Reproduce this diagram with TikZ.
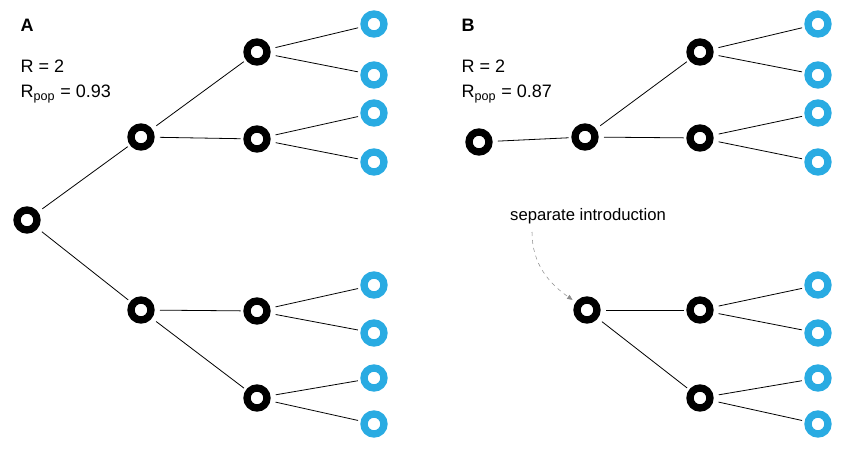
\documentclass[tikz,border=0pt]{standalone}
\usepackage{fontspec}
\setmainfont{Liberation Sans}
\usepackage{xcolor}
\usepackage{tikz}
\usetikzlibrary{positioning, arrows.meta, calc}
\definecolor{leafblue}{HTML}{29ABE2}
\tikzset{
    case/.style={circle, draw=black, line width=5.5pt, minimum size=15pt, inner sep=0pt},
    leaf/.style={case, draw=leafblue},
    link/.style={line width=0.6pt, black, shorten <=4pt, shorten >=2pt},
    plabel/.style={font=\fontsize{13.5}{16}\selectfont\bfseries, anchor=base west},
    rlabel/.style={font=\fontsize{13.5}{16}\selectfont, anchor=base west},
    note/.style={font=\fontsize{12.5}{15}\selectfont},
    arrow/.style={-{Triangle[length=4pt, width=3.5pt]}, dashed, thin, black!45, shorten >=3pt}
}

\begin{document}
\begin{tikzpicture}[x=0.75pt, y=-0.75pt]
        \useasboundingbox (0,0) rectangle (851,460);

        % Panel A
        \node[plabel] (labA) at (16,32) {A};
        \node[rlabel] (rA) at (16,73) {R = 2};
        \node[rlabel] (rpopA) at (16,98) {R\textsubscript{pop} = 0.93};

        \node[case] (a0) at (27,220) {};
        \node[case] (a1) at (141,137) {};
        \node[case] (a2) at (141,310) {};
        \node[case] (a11) at (257,52) {};
        \node[case] (a12) at (257,139) {};
        \node[case] (a21) at (257,311) {};
        \node[case] (a22) at (257,398) {};
        \foreach \n/\y in {1/24, 2/75, 3/113, 4/162, 5/285, 6/333, 7/378, 8/424}
            \node[leaf] (al\n) at (374,\y) {};

        \draw[link] (a0) -- (a1);
        \draw[link] (a0) -- (a2);
        \draw[link] (a1) -- (a11);
        \draw[link] (a1) -- (a12);
        \draw[link] (a2) -- (a21);
        \draw[link] (a2) -- (a22);
        \foreach \p/\l in {a11/al1, a11/al2, a12/al3, a12/al4, a21/al5, a21/al6, a22/al7, a22/al8}
            \draw[link] (\p) -- (\l);

        % Panel B
        \node[plabel] (labB) at (457,32) {B};
        \node[rlabel] (rB) at (457,73) {R = 2};
        \node[rlabel] (rpopB) at (457,98) {R\textsubscript{pop} = 0.87};

        \node[case] (b0) at (479,142) {};
        \node[case] (b1) at (585,137) {};
        \node[case] (b2) at (587,310) {};
        \node[case] (b11) at (700,52) {};
        \node[case] (b12) at (700,138) {};
        \node[case] (b21) at (700,310) {};
        \node[case] (b22) at (700,398) {};
        \foreach \n/\y in {1/24, 2/75, 3/113, 4/162, 5/285, 6/333, 7/378, 8/424}
            \node[leaf] (bl\n) at (818,\y) {};

        \draw[link] (b0) -- (b1);
        \draw[link] (b1) -- (b11);
        \draw[link] (b1) -- (b12);
        \draw[link] (b2) -- (b21);
        \draw[link] (b2) -- (b22);
        \foreach \p/\l in {b11/bl1, b11/bl2, b12/bl3, b12/bl4, b21/bl5, b21/bl6, b22/bl7, b22/bl8}
            \draw[link] (\p) -- (\l);

        % separate introduction
        \node[note] (intro) at (588,216) {separate introduction};
        \coordinate (introtail) at (532,232);
        \draw[arrow] (introtail) to[out=-90, in=145] (b2);
    \end{tikzpicture}
\end{document}
